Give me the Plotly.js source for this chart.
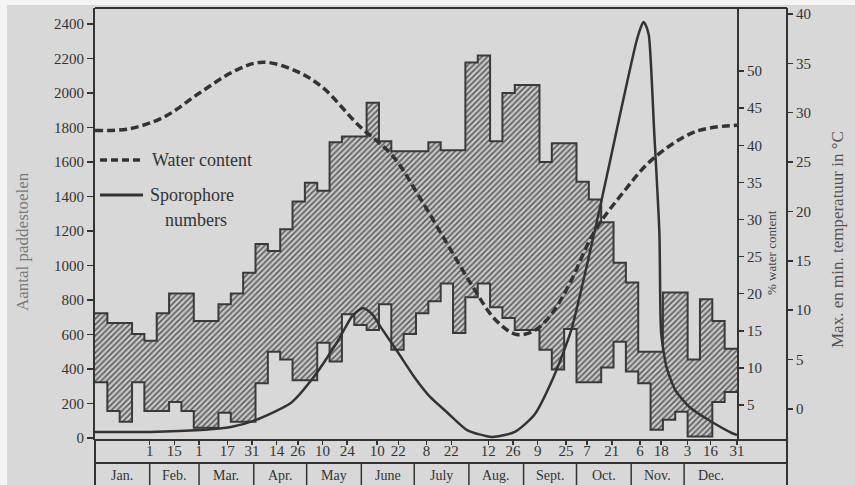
<!DOCTYPE html>
<html>
<head>
<meta charset="utf-8">
<script src="https://cdn.plot.ly/plotly-3.0.1.min.js"></script>
<style>html,body{margin:0;padding:0;background:#fff;}#chart{width:855px;height:485px;}</style>
</head>
<body>
<div id="chart"></div>
<script>
// ---- data ----
// weekly maximum and minimum temperature (°C), 52 weeks starting Jan 1
const maxTemp = [9.7,8.7,8.7,7.6,6.9,9.7,11.7,11.7,8.9,8.9,10.6,11.7,13.8,16.7,16.0,18.2,21.0,22.9,22.1,27.0,27.6,27.6,31.0,27.1,26.1,26.1,26.1,27.0,26.2,26.2,35.1,35.8,27.1,32.0,32.8,32.8,25.0,26.9,26.9,23.0,21.2,18.9,14.8,12.8,5.8,5.8,11.8,11.8,5.0,11.1,8.9,6.1];
const minTemp = [2.7,-0.2,-1.3,2.7,-0.2,-0.2,0.7,-0.2,-1.9,-1.9,-0.4,-1.3,-1.3,2.6,5.8,5.0,2.9,2.9,6.7,4.8,9.6,8.5,8.0,10.6,6.0,7.6,9.7,10.9,12.7,7.7,11.3,12.7,10.3,9.2,8.0,8.0,6.0,4.0,8.1,2.7,2.7,4.2,6.8,3.8,2.6,-2.1,-1.1,-0.3,-2.8,-2.8,0.7,1.7];
const weekLength = 7;
const yearEndDay = 365;

// water content (%) by day of year
const waterDays = [1,20,40,60,80,96,115,130,150,170,185,200,215,228,240,250,260,270,284,300,317,341,365];
const waterPct  = [42.0,42.2,43.8,47.0,50.0,51.2,50.0,47.8,42.8,38.5,33.0,27.0,21.0,16.5,14.5,15.0,17.3,21.3,28.3,33.5,38.1,41.8,42.7];

// sporophore numbers by day of year
const sporDays   = [1,32,61,78,92,112,125,139,147,153,158,163,173,182,191,201,212,226,239,250,261,271,287,299,308,311,312,313,315,318,321,322,325,330,338,349,362,365];
const sporCounts = [35,35,46,64,104,203,354,568,710,754,720,643,493,354,238,145,46,6,35,133,354,626,1322,1890,2300,2395,2412,2400,2336,1786,1188,609,412,278,180,104,29,17];

// axis ticks
const tickDays   = [32,46,60,76,90,104,116,130,144,161,173,189,203,224,238,252,268,280,294,310,322,337,350,365];
const tickLabels = ['1','15','1','17','31','14','26','10','24','10','22','8','22','12','26','9','25','7','21','6','18','3','16','31'];
const monthNames  = ['Jan.','Feb.','Mar.','Apr.','May','June','July','Aug.','Sept.','Oct.','Nov.','Dec.'];
const monthStarts = [1,32,60,91,121,152,182,213,244,274,305,335,366];
const countTicks = [0,200,400,600,800,1000,1200,1400,1600,1800,2000,2200,2400];
const waterTicks = [5,10,15,20,25,30,35,40,45,50];
const tempTicks  = [0,5,10,15,20,25,30,35,40];

// ---- build step series ----
const stepX = maxTemp.map((_, i) => 1 + i * weekLength).concat([yearEndDay]);
const stepMax = maxTemp.concat([maxTemp[maxTemp.length - 1]]);
const stepMin = minTemp.concat([minTemp[minTemp.length - 1]]);

// ---- pixel helpers for layout decorations ----
const L = 95, R = 787, T = 8, B = 440;
const px = x => (x - L) / (R - L);
const py = y => (B - y) / (B - T);

const ink = '#333333';
const serif = 'Liberation Serif, DejaVu Serif, serif';

const traces = [
  {x: stepX, y: stepMin, yaxis: 'y', mode: 'lines', line: {shape: 'hv', color: '#3a3a3a', width: 2}, hoverinfo: 'skip'},
  {x: stepX, y: stepMax, yaxis: 'y', mode: 'lines', line: {shape: 'hv', color: '#3a3a3a', width: 2}, fill: 'tonexty',
   fillcolor: '#c4c4c4', fillpattern: {shape: '/', fgcolor: '#5a5a5a', bgcolor: '#c8c8c8', size: 4, solidity: 0.38}, hoverinfo: 'skip'},
  {x: waterDays, y: waterPct, yaxis: 'y3', mode: 'lines', line: {shape: 'spline', smoothing: 1, color: ink, width: 3.5, dash: '8px,4px'}},
  {x: sporDays, y: sporCounts, yaxis: 'y2', mode: 'lines', line: {shape: 'spline', smoothing: 0.6, color: ink, width: 2.5}}
];

const shapes = [
  // light scan border
  {type: 'rect', xref: 'paper', yref: 'paper', x0: px(0), x1: px(855), y0: py(0), y1: py(5), fillcolor: '#f4f4f4', line: {width: 0}, layer: 'below'},
  {type: 'rect', xref: 'paper', yref: 'paper', x0: px(0), x1: px(7), y0: py(485), y1: py(0), fillcolor: '#f4f4f4', line: {width: 0}, layer: 'below'},
  // frame lines
  {type: 'line', xref: 'paper', yref: 'paper', x0: 0, x1: 1, y0: 1, y1: 1, line: {color: ink, width: 2}},
  {type: 'line', xref: 'paper', yref: 'paper', x0: 0, x1: 1, y0: 0, y1: 0, line: {color: ink, width: 2}},
  {type: 'line', xref: 'paper', yref: 'paper', x0: 0, x1: 1, y0: py(463), y1: py(463), line: {color: ink, width: 2}},
  {type: 'line', xref: 'paper', yref: 'paper', x0: 0, x1: 0, y0: py(486), y1: 0, line: {color: ink, width: 2}},
  {type: 'line', xref: 'paper', yref: 'paper', x0: 1, x1: 1, y0: py(486), y1: 0, line: {color: ink, width: 2}},
  // legend samples
  {type: 'line', xref: 'paper', yref: 'paper', x0: px(100), x1: px(143), y0: py(160), y1: py(160), line: {color: ink, width: 3.5, dash: '7px,4px'}},
  {type: 'line', xref: 'paper', yref: 'paper', x0: px(100), x1: px(143), y0: py(195), y1: py(195), line: {color: ink, width: 3}}
];
// month separators in the bottom row
monthStarts.slice(1).forEach(d => {
  shapes.push({type: 'line', xref: 'x', yref: 'paper', x0: d, x1: d, y0: py(486), y1: py(463), line: {color: ink, width: 1.5}});
});

const annotations = [
  {text: 'Water content', xref: 'paper', yref: 'paper', x: px(150), y: py(160), xanchor: 'left', yanchor: 'middle', showarrow: false, font: {family: serif, size: 18, color: ink}},
  {text: 'Sporophore', xref: 'paper', yref: 'paper', x: px(148), y: py(195), xanchor: 'left', yanchor: 'middle', showarrow: false, font: {family: serif, size: 18, color: ink}},
  {text: 'numbers', xref: 'paper', yref: 'paper', x: px(196), y: py(220), xanchor: 'center', yanchor: 'middle', showarrow: false, font: {family: serif, size: 18, color: ink}},
  {text: 'Aantal paddestoelen', xref: 'paper', yref: 'paper', x: px(22), y: py(242), xanchor: 'center', yanchor: 'middle', textangle: -90, showarrow: false, font: {family: serif, size: 17, color: '#7a7a7a'}},
  {text: '% water content', xref: 'paper', yref: 'paper', x: px(771), y: py(253), xanchor: 'center', yanchor: 'middle', textangle: -90, showarrow: false, font: {family: serif, size: 13, color: '#444'}},
  {text: 'Max. en min. temperatuur in °C', xref: 'paper', yref: 'paper', x: px(838), y: py(240), xanchor: 'center', yanchor: 'middle', textangle: -90, showarrow: false, font: {family: serif, size: 17, color: '#555'}}
];
monthNames.forEach((m, i) => {
  annotations.push({text: m, xref: 'x', yref: 'paper', x: (monthStarts[i] + monthStarts[i + 1]) / 2, y: py(475),
    xanchor: 'center', yanchor: 'middle', showarrow: false, font: {family: serif, size: 14, color: ink}});
});

const axisCommon = {showgrid: false, zeroline: false, ticks: 'outside', tickcolor: ink, tickwidth: 1.5,
  tickfont: {family: serif, size: 15, color: ink}, fixedrange: true};

const layout = {
  width: 855, height: 485,
  margin: {l: L, r: 855 - R, t: T, b: 485 - B},
  paper_bgcolor: '#d8d8d8', plot_bgcolor: 'rgba(0,0,0,0)',
  showlegend: false,
  font: {family: serif, color: ink},
  xaxis: Object.assign({}, axisCommon, {domain: [0, (737 - L) / (R - L)], range: [1, yearEndDay], tickvals: tickDays, ticktext: tickLabels,
    ticklen: 4, showline: false, ticklabelstandoff: -7}),
  // temperature (base axis, far right)
  yaxis: Object.assign({}, axisCommon, {side: 'right', anchor: 'free', position: 1, range: [-3.15, 40.61], tickvals: tempTicks,
    ticklen: 5, showline: true, linewidth: 2, linecolor: ink}),
  // sporophore numbers (left)
  yaxis2: Object.assign({}, axisCommon, {overlaying: 'y', side: 'left', anchor: 'x', range: [-11.6, 2493], tickvals: countTicks,
    ticklen: 6, showline: true, linewidth: 2, linecolor: ink}),
  // water content (inner right)
  yaxis3: Object.assign({}, axisCommon, {overlaying: 'y', side: 'right', anchor: 'x', range: [0.28, 58.5], tickvals: waterTicks,
    ticklen: 5, showline: true, linewidth: 2, linecolor: ink}),
  shapes: shapes,
  annotations: annotations
};

Plotly.newPlot('chart', traces, layout, {displayModeBar: false, staticPlot: true});
</script>
</body>
</html>
